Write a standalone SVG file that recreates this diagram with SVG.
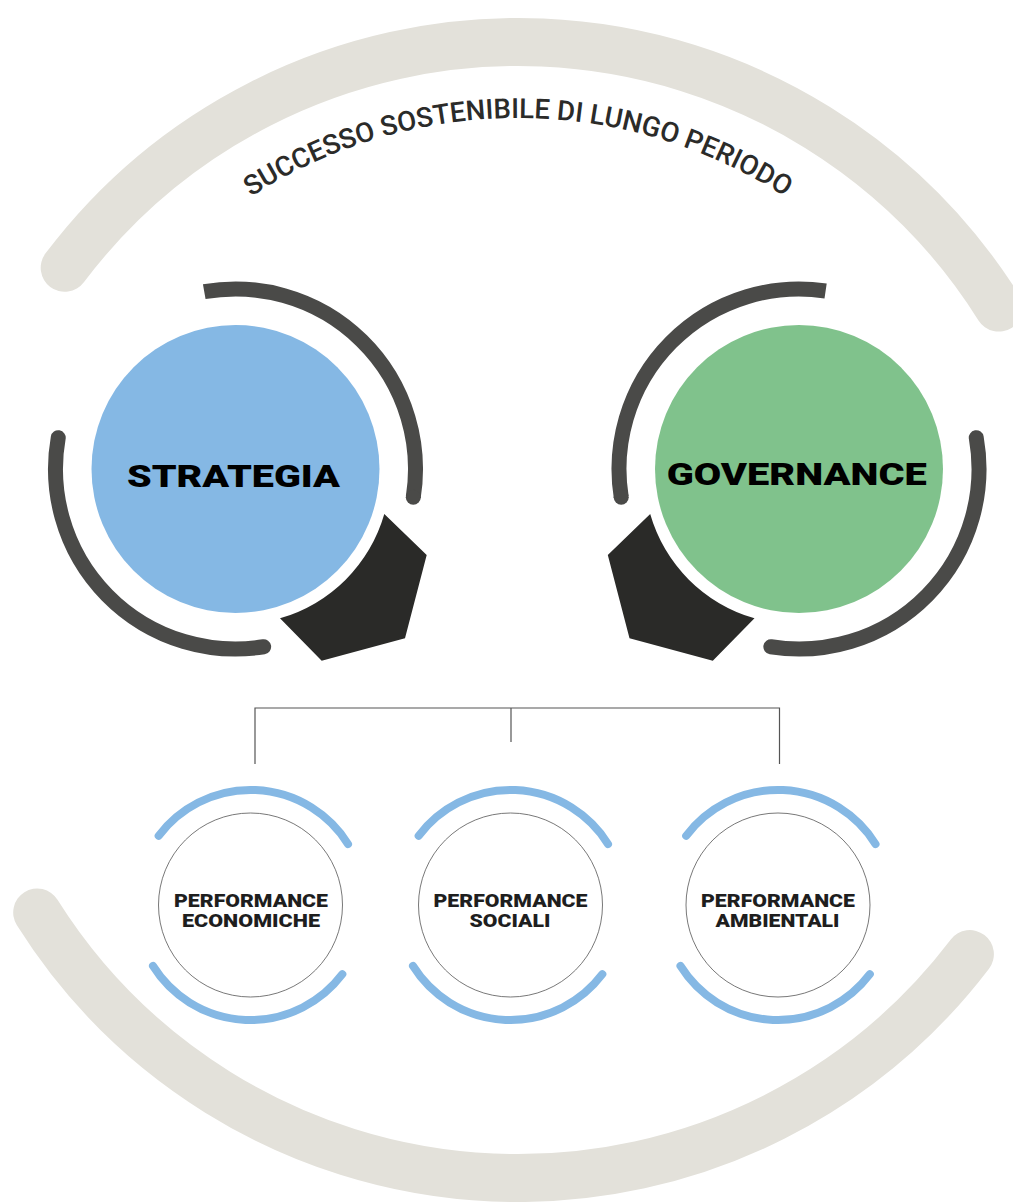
<svg xmlns="http://www.w3.org/2000/svg" width="1013" height="1202" viewBox="0 0 1013 1202">
<defs>
<style>
.band{fill:none;stroke:#e3e1da;stroke-width:48;stroke-linecap:round}
.ring{fill:none;stroke:#4a4a48;stroke-width:15}
.rc{stroke-linecap:round}
.pent{fill:#2a2a28}
.big{font-family:Roboto,Inter,"Liberation Sans",sans-serif;font-weight:900;font-size:32px;fill:#000;text-anchor:middle}
.barc{fill:none;stroke:#85b8e4;stroke-width:8;stroke-linecap:round}
.thin{fill:#fff;stroke:#555;stroke-width:0.8}
.small{font-family:Roboto,Inter,"Liberation Sans",sans-serif;font-weight:900;font-size:18px;fill:#1e1e1e;text-anchor:middle}
.title{font-family:Roboto,"Liberation Sans",sans-serif;font-size:27.6px;fill:#2b2b29;font-weight:500}
.conn{fill:none;stroke:#555;stroke-width:1.2}
</style>
<path id="titlePath" d="M 91.9 364 A 492 492 0 0 1 944.1 364"/>
</defs>
<g id="background">
<path class="band" d="M 64.7 267.8 A 568 568 0 0 1 998.8 307.6"/>
<path class="band" d="M 37.2 912.5 A 568 568 0 0 0 969.9 954.1"/>
<text class="title"><textPath href="#titlePath" startOffset="50%" text-anchor="middle">SUCCESSO SOSTENIBILE DI LUNGO PERIODO</textPath></text>
</g>
<g id="strategia">
<path class="ring" d="M 204.24 291.73 A 180 180 0 0 1 413.28 497.16"/>
<path class="ring rc" d="M 413.28 497.16 L 413.28 497.16"/>
<path class="ring rc" d="M 263.66 646.78 A 180 180 0 0 1 58.23 437.74"/>
<path class="pent" d="M 384.3 514 L 426.7 555 L 405 638.3 L 321.7 660.7 L 280 618.3 A 152 152 0 0 0 384.3 514 Z"/>
<circle cx="235.5" cy="469" r="144" fill="#85b8e4"/>
<text class="big" x="233.5" y="487" textLength="213" lengthAdjust="spacingAndGlyphs">STRATEGIA</text>
</g>
<g id="governance">
<path class="ring" d="M 825.6 290.98 A 180 180 0 0 0 621.22 497.16"/>
<path class="ring rc" d="M 621.22 497.16 L 621.22 497.16"/>
<path class="ring rc" d="M 976.27 437.74 A 180 180 0 0 1 770.84 646.78"/>
<path class="pent" d="M 650.2 514 L 607.8 555 L 629.5 638.3 L 712.8 660.7 L 754.5 618.3 A 152 152 0 0 1 650.2 514 Z"/>
<circle cx="799" cy="469" r="144" fill="#80c28c"/>
<text class="big" x="796.7" y="485" textLength="260" lengthAdjust="spacingAndGlyphs">GOVERNANCE</text>
</g>
<g id="connectors">
<path class="conn" d="M 255 764 L 255 708 L 779.5 708 L 779.5 764 M 511 708 L 511 742"/>
</g>
<g id="perf-economiche">
<path class="barc" d="M 158.66 835.79 A 115 115 0 0 1 348.03 844.06"/>
<path class="barc" d="M 342.34 974.21 A 115 115 0 0 1 152.97 965.94"/>
<circle class="thin" cx="250.5" cy="905" r="92"/>
<text class="small" x="251" y="906.7" textLength="154" lengthAdjust="spacingAndGlyphs">PERFORMANCE</text>
<text class="small" x="251" y="926.7" textLength="138" lengthAdjust="spacingAndGlyphs">ECONOMICHE</text>
</g>
<g id="perf-sociali">
<path class="barc" d="M 418.66 835.79 A 115 115 0 0 1 608.03 844.06"/>
<path class="barc" d="M 602.34 974.21 A 115 115 0 0 1 412.97 965.94"/>
<circle class="thin" cx="510.5" cy="905" r="92"/>
<text class="small" x="510.5" y="906.7" textLength="154" lengthAdjust="spacingAndGlyphs">PERFORMANCE</text>
<text class="small" x="510" y="926.7" textLength="81" lengthAdjust="spacingAndGlyphs">SOCIALI</text>
</g>
<g id="perf-ambientali">
<path class="barc" d="M 686.16 835.79 A 115 115 0 0 1 875.53 844.06"/>
<path class="barc" d="M 869.84 974.21 A 115 115 0 0 1 680.47 965.94"/>
<circle class="thin" cx="778" cy="905" r="92"/>
<text class="small" x="778" y="906.7" textLength="154" lengthAdjust="spacingAndGlyphs">PERFORMANCE</text>
<text class="small" x="777.5" y="926.7" textLength="124" lengthAdjust="spacingAndGlyphs">AMBIENTALI</text>
</g>
</svg>
